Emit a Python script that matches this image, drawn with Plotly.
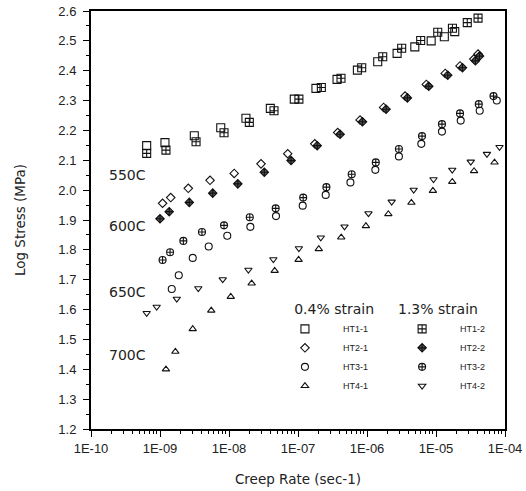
import plotly.graph_objects as go

# ---------------- data ----------------
ht1_1_rate = [6.41e-10, 1.18e-9, 3.14e-9, 7.59e-9, 1.76e-8, 3.97e-8, 8.83e-8, 1.82e-7,
              3.68e-7, 7.26e-7, 1.43e-6, 2.73e-6, 4.93e-6, 8.51e-6, 1.32e-5, 1.87e-5]
ht1_1_stress = [2.149, 2.159, 2.182, 2.209, 2.241, 2.274, 2.305, 2.341,
                2.371, 2.402, 2.430, 2.458, 2.480, 2.500, 2.514, 2.531]

ht1_2_rate = [6.41e-10, 1.22e-9, 3.33e-9, 8.47e-9, 1.97e-8, 4.49e-8, 1.03e-7, 2.18e-7, 4.20e-7,
              8.38e-7, 1.69e-6, 3.18e-6, 6.00e-6, 1.06e-5, 1.73e-5, 2.84e-5, 4.07e-5]
ht1_2_stress = [2.123, 2.134, 2.162, 2.192, 2.227, 2.266, 2.305, 2.344, 2.375,
                2.410, 2.447, 2.475, 2.501, 2.529, 2.542, 2.561, 2.576]

ht2_1_rate = [1.09e-9, 1.43e-9, 2.57e-9, 5.31e-9, 1.19e-8, 2.91e-8, 7.10e-8, 1.75e-7, 3.76e-7,
              7.93e-7, 1.74e-6, 3.56e-6, 7.24e-6, 1.36e-5, 2.23e-5, 3.53e-5, 4.07e-5]
ht2_1_stress = [1.956, 1.975, 2.006, 2.033, 2.056, 2.088, 2.122, 2.155, 2.193,
                2.235, 2.277, 2.315, 2.354, 2.391, 2.416, 2.439, 2.456]

ht2_2_rate = [1.00e-9, 1.36e-9, 2.66e-9, 5.81e-9, 1.34e-8, 3.25e-8, 7.93e-8, 1.90e-7, 4.07e-7,
              8.59e-7, 1.89e-6, 3.85e-6, 7.85e-6, 1.48e-5, 2.42e-5, 3.72e-5, 4.27e-5]
ht2_2_stress = [1.904, 1.928, 1.959, 1.990, 2.021, 2.060, 2.099, 2.149, 2.187,
                2.229, 2.271, 2.309, 2.348, 2.385, 2.410, 2.433, 2.449]

ht3_1_rate = [1.48e-9, 1.87e-9, 2.98e-9, 5.08e-9, 9.44e-9, 2.04e-8, 4.80e-8, 1.17e-7, 2.52e-7,
              5.75e-7, 1.32e-6, 2.90e-6, 6.12e-6, 1.22e-5, 2.28e-5, 4.30e-5, 7.60e-5]
ht3_1_stress = [1.669, 1.715, 1.773, 1.811, 1.847, 1.877, 1.913, 1.948, 1.984,
                2.026, 2.068, 2.113, 2.155, 2.196, 2.233, 2.266, 2.300]

ht3_2_rate = [1.09e-9, 1.40e-9, 2.18e-9, 4.06e-9, 8.47e-9, 2.00e-8, 4.75e-8, 1.19e-7, 2.58e-7,
              6.00e-7, 1.34e-6, 2.90e-6, 6.27e-6, 1.22e-5, 2.23e-5, 4.17e-5, 6.81e-5, 1.0e-4]
ht3_2_stress = [1.766, 1.792, 1.830, 1.860, 1.882, 1.909, 1.939, 1.975, 2.010,
                2.053, 2.093, 2.138, 2.181, 2.221, 2.257, 2.288, 2.315, 2.333]

ht4_1_rate = [1.22e-9, 1.67e-9, 2.98e-9, 5.53e-9, 1.06e-8, 2.13e-8, 4.59e-8, 1.02e-7, 2.00e-7,
              4.23e-7, 9.64e-7, 2.04e-6, 4.40e-6, 9.02e-6, 1.72e-5, 3.56e-5, 7.05e-5]
ht4_1_stress = [1.400, 1.459, 1.535, 1.597, 1.643, 1.688, 1.730, 1.767, 1.803,
                1.842, 1.880, 1.920, 1.958, 1.998, 2.028, 2.064, 2.093]

ht4_2_rate = [6.41e-10, 8.95e-10, 1.75e-9, 3.59e-9, 8.11e-9, 1.91e-8, 4.39e-8, 1.03e-7, 2.14e-7,
              4.72e-7, 1.05e-6, 2.28e-6, 4.75e-6, 9.20e-6, 1.72e-5, 3.19e-5, 5.47e-5, 8.32e-5]
ht4_2_stress = [1.588, 1.609, 1.636, 1.671, 1.701, 1.733, 1.768, 1.805, 1.841,
                1.878, 1.922, 1.961, 2.001, 2.036, 2.068, 2.095, 2.121, 2.144]

x_tick_vals = [1e-10, 1e-9, 1e-8, 1e-7, 1e-6, 1e-5, 1e-4]
x_tick_text = ["1E-10", "1E-09", "1E-08", "1E-07", "1E-06", "1E-05", "1E-04"]

temp_labels = ["550C", "600C", "650C", "700C"]
temp_label_y = [2.051, 1.880, 1.660, 1.448]

group_titles = ["0.4% strain", "1.3% strain"]

# ---------------- figure ----------------
INK = "#111111"
series = [
    ("HT1-1", ht1_1_rate, ht1_1_stress, "square-open", "g1"),
    ("HT2-1", ht2_1_rate, ht2_1_stress, "diamond-open", "g1"),
    ("HT3-1", ht3_1_rate, ht3_1_stress, "circle-open", "g1"),
    ("HT4-1", ht4_1_rate, ht4_1_stress, "triangle-up-open", "g1"),
    ("HT1-2", ht1_2_rate, ht1_2_stress, "square-cross-open", "g2"),
    ("HT2-2", ht2_2_rate, ht2_2_stress, "diamond-cross", "g2"),
    ("HT3-2", ht3_2_rate, ht3_2_stress, "circle-cross-open", "g2"),
    ("HT4-2", ht4_2_rate, ht4_2_stress, "triangle-down-open", "g2"),
]
sizes = {"square-open": 8, "square-cross-open": 8, "diamond-open": 6.5, "diamond-cross": 6.5,
         "circle-open": 7, "circle-cross-open": 7,
         "triangle-up-open": 6.5, "triangle-down-open": 6.5}

fig = go.Figure()
for name, xs, ys, sym, grp in series:
    filled = sym == "diamond-cross"
    title = group_titles[0] if grp == "g1" else group_titles[1]
    pad = "\u00a0" * (5 if grp == "g1" else 2)
    fig.add_trace(go.Scatter(
        x=xs, y=ys, mode="markers", name=name,
        legendgroup=grp,
        legendgrouptitle=dict(text=pad + title,
                              font=dict(family="DejaVu Sans", size=14, color="#222")),
        marker=dict(symbol=sym, size=sizes[sym],
                    color="#555555" if filled else INK,
                    line=dict(color=INK, width=1.1)),
        cliponaxis=False,
    ))

for txt, yy in zip(temp_labels, temp_label_y):
    fig.add_annotation(text=txt, xref="paper", yref="y", x=0.038, y=yy,
                       xanchor="left", yanchor="middle", showarrow=False,
                       font=dict(family="DejaVu Sans", size=14, color="#222"))

axis_common = dict(showline=True, linewidth=2, linecolor="black", mirror=True,
                   ticks="outside", ticklen=6, tickwidth=1, tickcolor="black",
                   showgrid=False, zeroline=False, automargin=False,
                   tickfont=dict(family="Liberation Sans", size=13, color="#222"))

fig.update_xaxes(type="log", range=[-10, -4], tickvals=x_tick_vals, ticktext=x_tick_text,
                 minor=dict(dtick="D1", ticks="outside", ticklen=3, tickwidth=1, tickcolor="black"),
                 title=dict(text="Creep Rate (sec-1)", standoff=20,
                            font=dict(family="DejaVu Sans", size=13.5, color="#222")),
                 **axis_common)
fig.update_yaxes(range=[1.2, 2.6], dtick=0.1, tick0=1.2, tickformat=".1f",
                 minor=dict(dtick=0.05, ticks="outside", ticklen=3, tickwidth=1, tickcolor="black"),
                 ticklabelstandoff=4,
                 title=dict(text="Log Stress (MPa)", standoff=30,
                            font=dict(family="DejaVu Sans", size=13.5, color="#222")),
                 **axis_common)

fig.update_layout(
    width=526, height=491,
    margin=dict(l=91, r=21, t=11, b=62),
    paper_bgcolor="white", plot_bgcolor="white",
    showlegend=True,
    legend=dict(orientation="h", traceorder="grouped", x=0.425, y=0.325,
                xanchor="left", yanchor="top", itemwidth=66, bgcolor="rgba(0,0,0,0)",
                font=dict(family="Liberation Sans", size=9, color="#222"),
                borderwidth=0),
)

fig.write_html("out.html")
